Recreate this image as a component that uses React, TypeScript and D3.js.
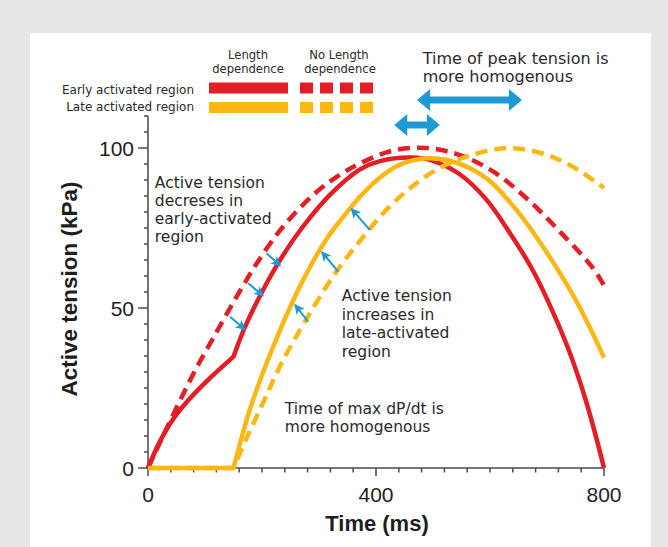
import React from 'react';
import * as d3 from 'd3';

// time (ms), active tension (kPa)
const earlyLength: [number, number][] = [
  [0, 0], [20, 8], [45, 15.5], [75, 22], [110, 28.3], [150, 34.8],
  [170, 44], [200, 55], [230, 64.5], [270, 75], [320, 85.5], [372, 93.3],
  [407, 95.9], [462, 97], [500, 96], [547, 91.8], [594, 83.8], [640, 72],
  [676, 61.5], [711, 48.5], [740, 36], [770, 20], [800, 0],
];
const earlyNoLength: [number, number][] = [
  [0, 0], [25, 9.5], [56, 21], [86, 31.6], [114, 40.5], [144, 50], [167, 57],
  [191, 64], [235, 75], [294, 86], [340, 92], [372, 95.2], [430, 99.2],
  [489, 100], [547, 97.8], [606, 92.6], [664, 84.3], [723, 73.8], [781, 62.4], [800, 57],
];
const lateLength: [number, number][] = [
  [0, 0], [150, 0], [165, 10], [180, 19], [202, 30], [235, 44.5], [270, 58],
  [313, 71.5], [354, 81], [372, 84.8], [407, 90.8], [442, 94.8], [489, 96.8],
  [536, 95.7], [594, 90.5], [647, 80.5], [699, 67.5], [752, 52], [800, 34.5],
];
const lateNoLength: [number, number][] = [
  [0, 0], [150, 0], [176, 10.5], [206, 22], [235, 33], [276, 46], [329, 61],
  [372, 71], [419, 80.8], [465, 88.2], [512, 93.8], [559, 97.3], [623, 99.9],
  [682, 98.8], [740, 94.7], [800, 87.5],
];
// index of the activation kink in each series
const kinks = { earlyLength: 5, earlyNoLength: 0, lateLength: 1, lateNoLength: 1 };

// small blue arrows: [t0, v0, t1, v1]
const earlyShift = [[144, 47.3, 170, 43.3], [176, 57.7, 202, 53.8], [208, 67.1, 232, 63.2]];
const lateShift = [[281, 45.7, 258, 51], [334, 61.3, 305, 67.5], [389, 74.4, 357, 81]];
// peak spread arrows: [tFrom, tTo, v]
const peakSpread = [[432, 512, 107.2], [472, 656, 115]];

const xMinor = d3.range(0, 801, 40);
const xLabels = [0, 400, 800];
const yMinor = d3.range(0, 111, 5);
const yLabels = [0, 50, 100];

const noteEarly = ['Active tension', 'decreses in', 'early-activated', 'region'];
const noteLate = ['Active tension', 'increases in', 'late-activated', 'region'];
const noteDpdt = ['Time of max dP/dt is', 'more homogenous'];
const notePeak = ['Time of peak tension is', 'more homogenous'];

const RED = '#e31e25';
const YELLOW = '#fbb714';
const BLUE = '#1c9ad6';
const INK = '#2a2a2a';
const AXIS = '#4a4a4a';
const SANS = 'DejaVu Sans, Verdana, sans-serif';
const ARIAL = 'Liberation Sans, Arial, sans-serif';

const x = d3.scaleLinear().domain([0, 800]).range([148, 604]);
const y = d3.scaleLinear().domain([0, 110]).range([468, 116]);

const line = d3.line<[number, number]>()
  .x(d => x(d[0]))
  .y(d => y(d[1]))
  .curve(d3.curveCatmullRom.alpha(0.5));

function curvePath(pts: [number, number][], kink: number) {
  if (kink <= 0) return line(pts) || '';
  const a = line(pts.slice(0, kink + 1)) || '';
  const b = line(pts.slice(kink)) || '';
  return a + b.replace(/^M/, 'L');
}

function doubleArrow(x1: number, x2: number, yc: number) {
  const hl = 13, hh = 11, sh = 3.5;
  const p = [
    [x1, yc], [x1 + hl, yc - hh], [x1 + hl, yc - sh], [x2 - hl, yc - sh], [x2 - hl, yc - hh],
    [x2, yc], [x2 - hl, yc + hh], [x2 - hl, yc + sh], [x1 + hl, yc + sh], [x1 + hl, yc + hh],
  ];
  return p.map(d => d.join(',')).join(' ');
}

function Note({ lines, t, v, size, gap }: { lines: string[]; t: number; v: number; size: number; gap: number }) {
  return (
    <text x={x(t)} y={y(v)} fontFamily={SANS} fontSize={size} fill={INK}>
      {lines.map((l, i) => (
        <tspan key={i} x={x(t)} dy={i === 0 ? 0 : gap}>{l}</tspan>
      ))}
    </text>
  );
}

export default function App() {
  const series = [
    { d: curvePath(earlyLength, kinks.earlyLength), c: RED, dash: undefined },
    { d: curvePath(lateLength, kinks.lateLength), c: YELLOW, dash: undefined },
    { d: curvePath(earlyNoLength, kinks.earlyNoLength), c: RED, dash: '12 7' },
    { d: curvePath(lateNoLength, kinks.lateNoLength), c: YELLOW, dash: '12 7' },
  ];

  return (
    <div style={{ position: 'absolute', left: 0, top: 0 }}>
      <svg width={668} height={547} style={{ display: 'block' }}>
        <defs>
          <marker id="blueHead" markerUnits="userSpaceOnUse" markerWidth={10} markerHeight={10}
            refX={9} refY={5} orient="auto">
            <path d="M0,0 L10,5 L0,10 L2.5,5 z" fill={BLUE} />
          </marker>
        </defs>
        <rect width={668} height={547} fill="#e6e7e9" />
        <rect x={30} y={33} width={621} height={514} fill="#ffffff" />

        {/* legend */}
        <g fontFamily={SANS} fill={INK}>
          <text x={248} y={59} fontSize={11.6} textAnchor="middle">Length</text>
          <text x={248} y={72.5} fontSize={11.6} textAnchor="middle">dependence</text>
          <text x={339} y={59} fontSize={11.6} textAnchor="middle">No Length</text>
          <text x={340} y={72.5} fontSize={11.6} textAnchor="middle">dependence</text>
          <text x={194} y={93.5} fontSize={12} textAnchor="end">Early activated region</text>
          <text x={194} y={110.5} fontSize={12} textAnchor="end">Late activated region</text>
        </g>
        {[{ c: RED, yc: 88 }, { c: YELLOW, yc: 107.5 }].map((r, i) => (
          <g key={i}>
            <rect x={209} y={r.yc - 5.5} width={79} height={11} fill={r.c} />
            {[300, 320, 340, 360].map(sx => (
              <rect key={sx} x={sx} y={r.yc - 5.5} width={13} height={11} fill={r.c} />
            ))}
          </g>
        ))}

        {/* axes */}
        <g stroke={AXIS} strokeWidth={1.5}>
          <line x1={x(0)} x2={x(0)} y1={y(0)} y2={y(110)} />
          <line x1={x(0)} x2={x(800)} y1={y(0)} y2={y(0)} />
          {yMinor.map(v => (
            <line key={'y' + v} x1={x(0) - (yLabels.includes(v) ? 10 : 4)} x2={x(0)} y1={y(v)} y2={y(v)} />
          ))}
          {xMinor.map(t => (
            <line key={'x' + t} x1={x(t)} x2={x(t)} y1={y(0)} y2={y(0) + (xLabels.includes(t) ? 8 : 4.5)} />
          ))}
        </g>
        <g fontFamily={ARIAL} fontSize={21} fill="#1e1e1e">
          {yLabels.map(v => (
            <text key={v} x={134} y={y(v)} dy="0.36em" textAnchor="end">{v}</text>
          ))}
          {xLabels.map(t => (
            <text key={t} x={x(t)} y={502} textAnchor="middle">{t}</text>
          ))}
        </g>
        <text x={377} y={531} textAnchor="middle" fontFamily={ARIAL} fontWeight="bold" fontSize={22} fill="#1e1e1e">
          Time (ms)
        </text>
        <text transform="translate(77,289) rotate(-90)" textAnchor="middle" fontFamily={ARIAL}
          fontWeight="bold" fontSize={22.5} fill="#1e1e1e">
          Active tension (kPa)
        </text>

        {/* curves */}
        {series.map((s, i) => (
          <path key={i} d={s.d} fill="none" stroke={s.c} strokeWidth={4.5}
            strokeDasharray={s.dash} strokeLinejoin="round" />
        ))}

        {/* shift arrows */}
        {[...earlyShift, ...lateShift].map((a, i) => (
          <line key={i} x1={x(a[0])} y1={y(a[1])} x2={x(a[2])} y2={y(a[3])}
            stroke={BLUE} strokeWidth={2} markerEnd="url(#blueHead)" />
        ))}
        {peakSpread.map((a, i) => (
          <polygon key={i} points={doubleArrow(x(a[0]), x(a[1]), y(a[2]))} fill={BLUE} />
        ))}

        {/* annotations */}
        <Note lines={noteEarly} t={12} v={87.6} size={15.5} gap={18} />
        <Note lines={noteLate} t={340} v={52.2} size={15.5} gap={18.6} />
        <Note lines={noteDpdt} t={240} v={17} size={15.5} gap={18.8} />
        <Note lines={notePeak} t={482} v={126.2} size={16} gap={18.2} />
      </svg>
    </div>
  );
}
